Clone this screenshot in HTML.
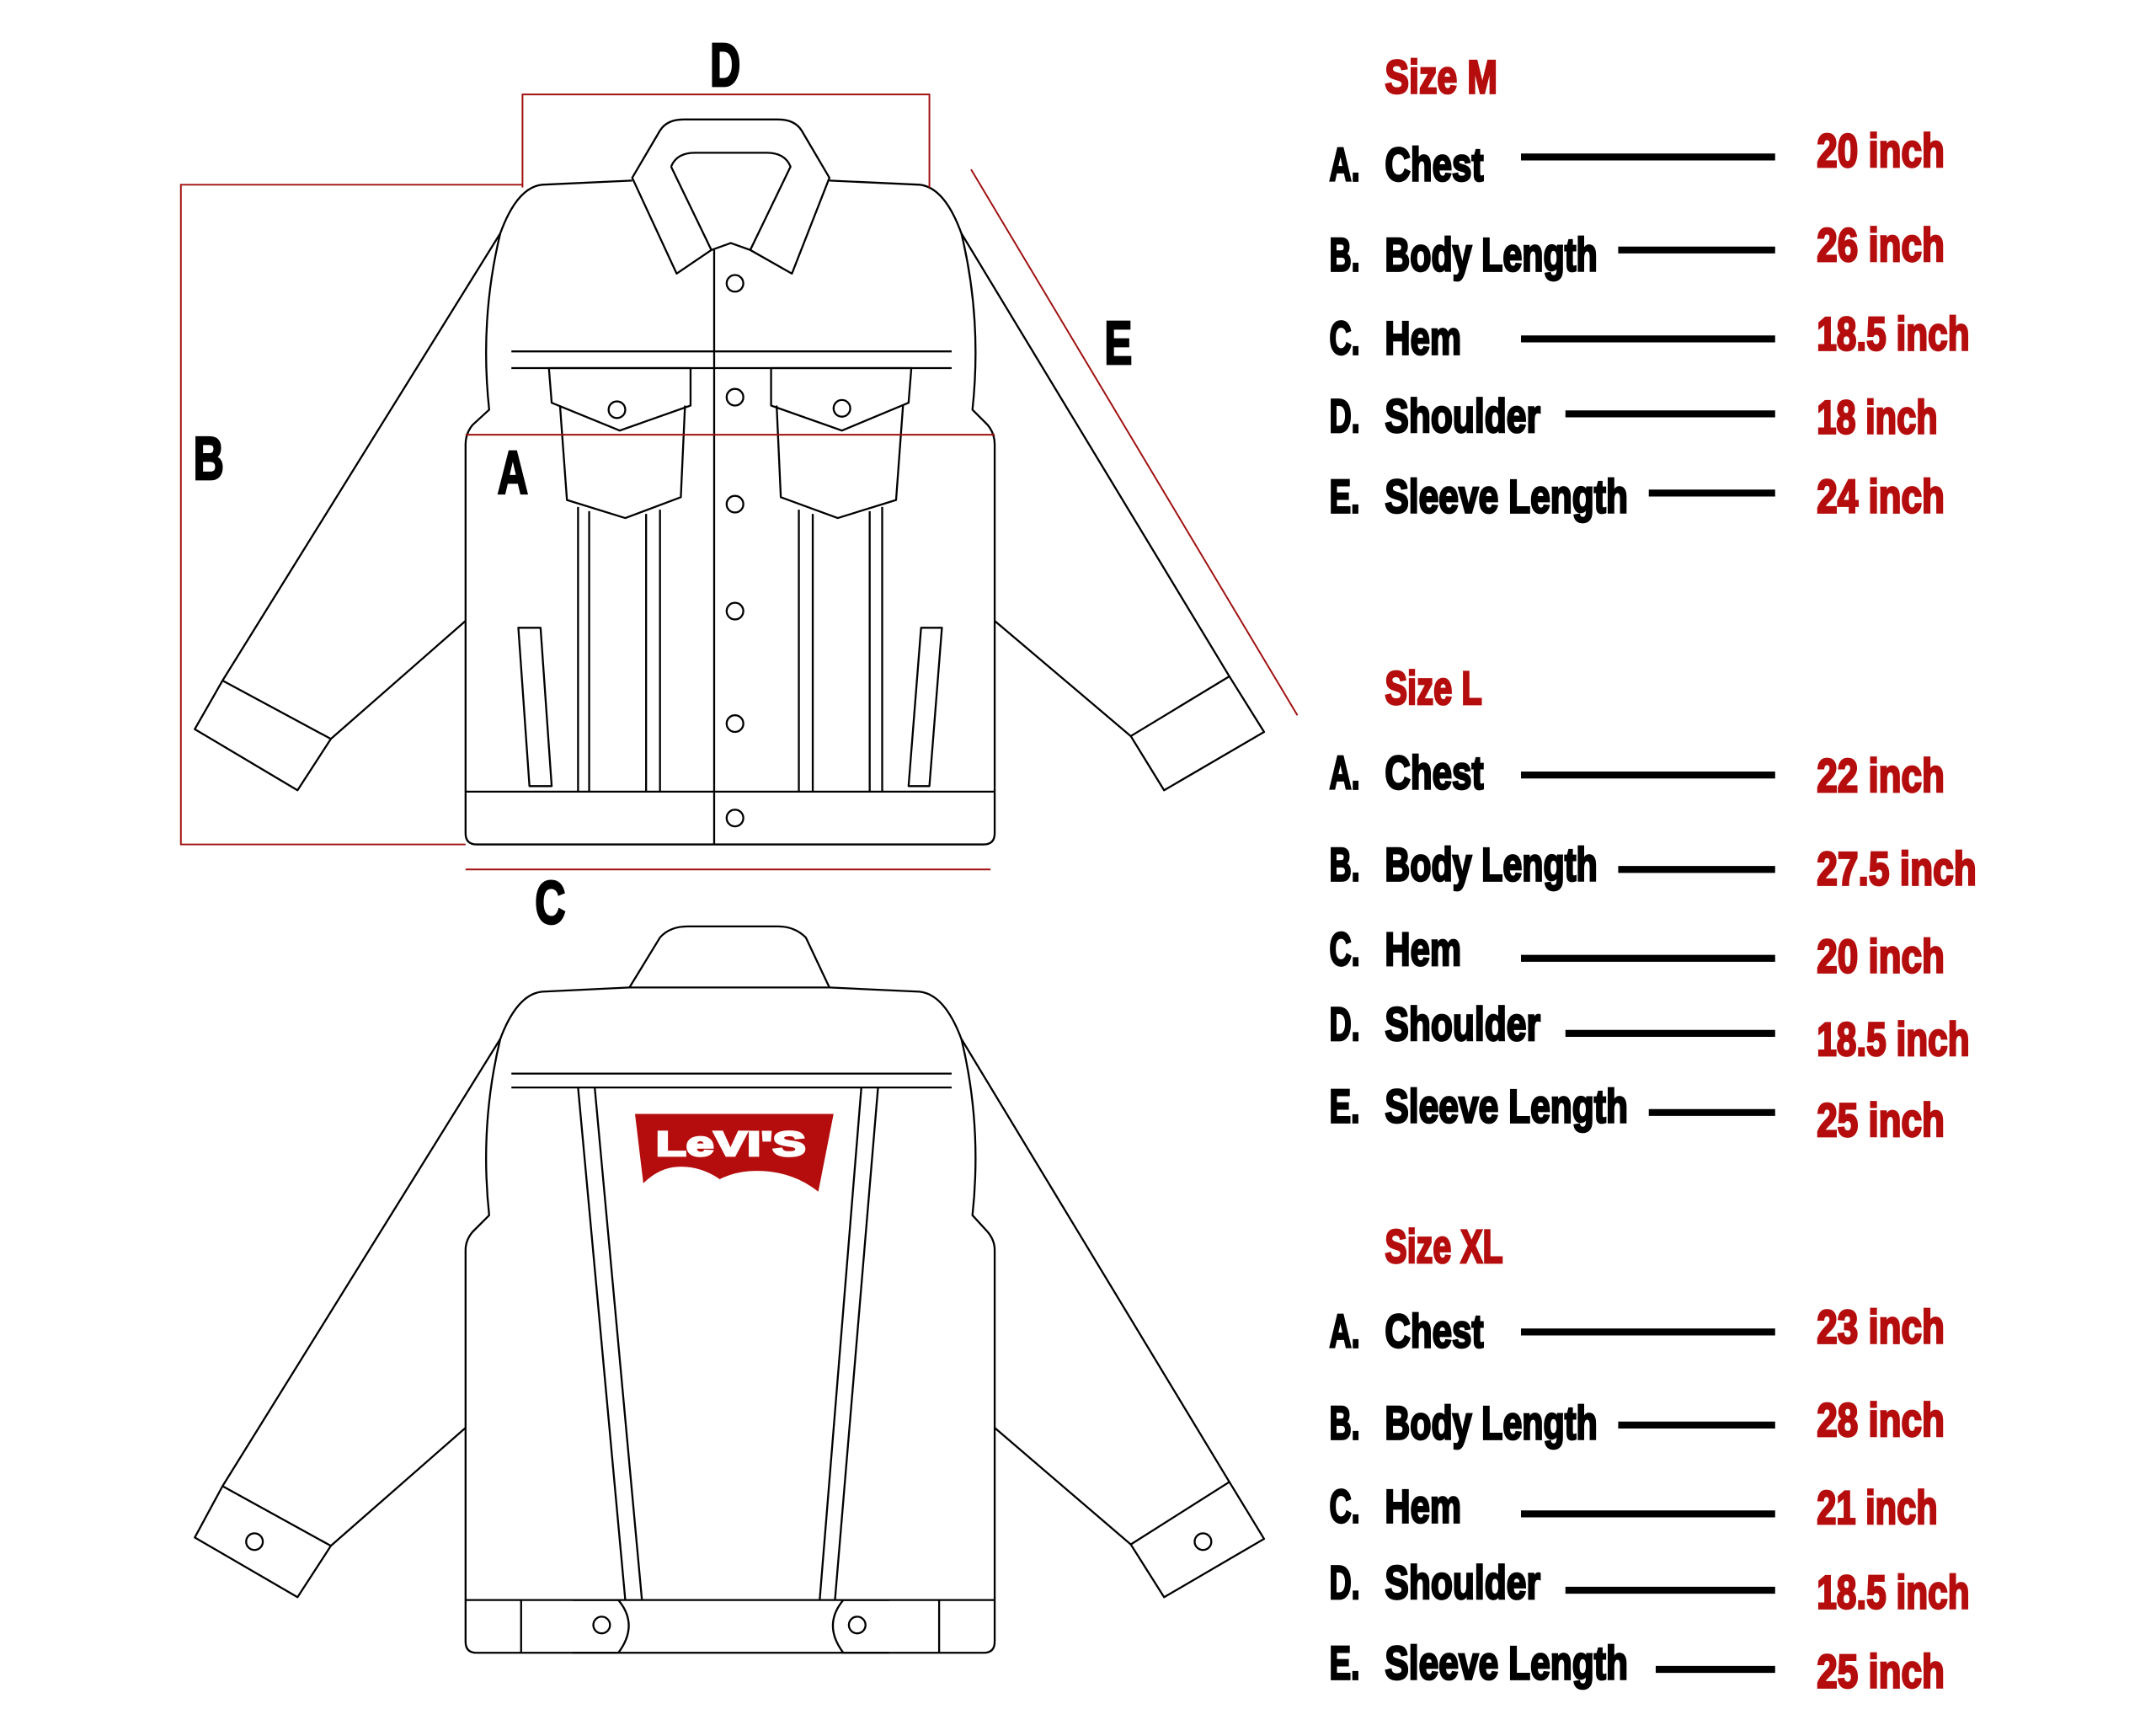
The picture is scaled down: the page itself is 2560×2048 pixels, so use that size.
<!DOCTYPE html>
<html><head><meta charset="utf-8"><style>
html,body{margin:0;padding:0;background:#fff;}
svg{display:block;}
.t{font-family:"Liberation Sans Narrow","Liberation Sans",sans-serif;font-weight:bold;}
.th{stroke-width:1.6;paint-order:stroke;}
</style></head><body>
<svg width="2560" height="2048" viewBox="0 0 1552 1242" xmlns="http://www.w3.org/2000/svg">
<rect width="1552" height="1242" fill="#fff"/>
<g fill="none" stroke="#000" stroke-width="1.4" stroke-linejoin="round">
<path d="M455,130 L390,133 Q372,135 360,168 Q345,230 352,295 L340,306 Q335,312 335,320 L335,600 Q335,608 343,608 L708,608 Q716,608 716,600 L716,320 Q716,312 711,306 L700,295 Q707,230 692,168 Q680,135 662,133 L597,130"/>
<path d="M455,128 L475,94 Q480,86 492,86 L560,86 Q572,86 577,94 L597,128 L570,197 L540,180 L526,175 L512,180 L487,197 Z"/>
<path d="M483,120 Q487,110 500,110 L552,110 Q565,110 569,120 L540,180 M483,120 L512,180"/>
<path d="M360,168 L160,490 L140,525 L214,569 L238,532 L335,447"/>
<path d="M160,490 L238,532"/>
<path d="M692,168 L885,487 L910,527 L838,569 L814,530 L716,447"/>
<path d="M885,487 L814,530"/>
<line x1="368" y1="253" x2="685" y2="253"/><line x1="368" y1="265" x2="685" y2="265"/>
<line x1="514" y1="180" x2="514" y2="608"/>
<line x1="335" y1="570" x2="716" y2="570"/>
<path d="M395,265 L497,265 L497,292 L446,310 L397,290 Z"/>
<path d="M403,292 L408,360 L450,373 L490,358 L493,292"/>
<path d="M555,265 L656,265 L654,290 L606,310 L555,292 Z"/>
<path d="M559,292 L562,358 L603,373 L645,360 L650,292"/>
<circle cx="444" cy="295" r="6"/><circle cx="606" cy="294" r="6"/>
<circle cx="529" cy="204" r="6"/><circle cx="529" cy="286" r="6"/><circle cx="529" cy="363" r="6"/><circle cx="529" cy="440" r="6"/><circle cx="529" cy="521" r="6"/><circle cx="529" cy="589" r="6"/>
<line x1="416" y1="365" x2="416" y2="570"/><line x1="424" y1="368" x2="424" y2="570"/>
<line x1="465" y1="370" x2="465" y2="570"/><line x1="475" y1="367" x2="475" y2="570"/>
<line x1="575" y1="367" x2="575" y2="570"/><line x1="585" y1="370" x2="585" y2="570"/>
<line x1="626" y1="368" x2="626" y2="570"/><line x1="635" y1="365" x2="635" y2="570"/>
<path d="M373,452 L389,452 L397,566 L381,566 Z"/>
<path d="M663,452 L678,452 L669,566 L654,566 Z"/>
<path d="M453,711 L475,675 Q482,667 495,667 L560,667 Q572,667 580,675 L597,711"/>
<path d="M453,711 L390,714 Q372,716 360,748 Q345,810 352,875 L340,887 Q335,893 335,900 L335,1182 Q335,1190 343,1190 L708,1190 Q716,1190 716,1182 L716,900 Q716,893 711,887 L700,875 Q707,810 692,748 Q680,716 662,714 L597,711 Z"/>
<path d="M360,748 L160,1070 L140,1107 L214,1150 L238,1113 L335,1028"/>
<path d="M160,1070 L238,1113"/>
<path d="M692,748 L885,1067 L910,1108 L838,1150 L814,1112 L716,1028"/>
<path d="M885,1067 L814,1112"/>
<circle cx="183" cy="1110" r="6"/><circle cx="866" cy="1110" r="6"/>
<line x1="368" y1="773" x2="685" y2="773"/><line x1="368" y1="783" x2="685" y2="783"/>
<line x1="416" y1="783" x2="450" y2="1152"/><line x1="428" y1="783" x2="462" y2="1152"/>
<line x1="632" y1="783" x2="601" y2="1152"/><line x1="620" y1="783" x2="590" y2="1152"/>
<line x1="335" y1="1152" x2="716" y2="1152"/>
<line x1="375" y1="1152" x2="375" y2="1190"/><line x1="676" y1="1152" x2="676" y2="1190"/>
<path d="M412,1152 L445,1152 Q460,1170 445,1190 L412,1190"/>
<path d="M640,1152 L607,1152 Q592,1170 607,1190 L640,1190"/>
<circle cx="433" cy="1170" r="6"/><circle cx="617" cy="1170" r="6"/>
</g>
<path d="M457,802 L600,802 L589,858 Q570,843 545,843 Q530,843 518,849 Q505,840 490,840 Q475,840 463,852 Z" fill="#b50d0d"/>
<text x="526" y="832" class="t th" font-size="25" fill="#fff" stroke="#fff" text-anchor="middle" textLength="108" lengthAdjust="spacingAndGlyphs" font-family="Liberation Sans">LeVI'S</text>
<g stroke="#a01010" stroke-width="1.2" fill="none">
<path d="M376,135 L376,68 L669,68 L669,135"/>
<path d="M376,133 L130,133 L130,608 L335,608"/>
<line x1="335" y1="313" x2="716" y2="313"/>
<line x1="335" y1="626" x2="713" y2="626"/>
<line x1="699" y1="122" x2="934" y2="515"/>
</g>
<g class="t th" font-size="44" fill="#000" stroke="#000" text-anchor="middle">
<text x="522" y="62" textLength="22" lengthAdjust="spacingAndGlyphs">D</text>
<text x="150" y="345" textLength="22" lengthAdjust="spacingAndGlyphs">B</text>
<text x="369" y="355" textLength="22" lengthAdjust="spacingAndGlyphs">A</text>
<text x="805" y="262" textLength="20" lengthAdjust="spacingAndGlyphs">E</text>
<text x="396" y="665" textLength="22" lengthAdjust="spacingAndGlyphs">C</text>
</g>
<g class="t th" font-size="34" stroke="#000">
<text x="997" y="67" fill="#b50d0d" stroke="#b50d0d" textLength="81" lengthAdjust="spacingAndGlyphs">Size M</text>
<text x="957" y="130" textLength="22" lengthAdjust="spacingAndGlyphs">A.</text><text x="997" y="130" textLength="71" lengthAdjust="spacingAndGlyphs">Chest</text>
<text x="957" y="195" textLength="22" lengthAdjust="spacingAndGlyphs">B.</text><text x="997" y="195" textLength="153" lengthAdjust="spacingAndGlyphs">Body Length</text>
<text x="957" y="255" textLength="22" lengthAdjust="spacingAndGlyphs">C.</text><text x="997" y="255" textLength="55" lengthAdjust="spacingAndGlyphs">Hem</text>
<text x="957" y="311" textLength="22" lengthAdjust="spacingAndGlyphs">D.</text><text x="997" y="311" textLength="112" lengthAdjust="spacingAndGlyphs">Shoulder</text>
<text x="957" y="369" textLength="22" lengthAdjust="spacingAndGlyphs">E.</text><text x="997" y="369" textLength="175" lengthAdjust="spacingAndGlyphs">Sleeve Length</text>
<g fill="#b50d0d" stroke="#b50d0d">
<text x="1308" y="120" textLength="92" lengthAdjust="spacingAndGlyphs">20 inch</text>
<text x="1308" y="188" textLength="92" lengthAdjust="spacingAndGlyphs">26 inch</text>
<text x="1308" y="252" textLength="110" lengthAdjust="spacingAndGlyphs">18.5 inch</text>
<text x="1308" y="312" textLength="87" lengthAdjust="spacingAndGlyphs">18 inch</text>
<text x="1308" y="369" textLength="92" lengthAdjust="spacingAndGlyphs">24 inch</text>
</g>
<text x="997" y="507" fill="#b50d0d" stroke="#b50d0d" textLength="70" lengthAdjust="spacingAndGlyphs">Size L</text>
<text x="957" y="568" textLength="22" lengthAdjust="spacingAndGlyphs">A.</text><text x="997" y="568" textLength="71" lengthAdjust="spacingAndGlyphs">Chest</text>
<text x="957" y="634" textLength="22" lengthAdjust="spacingAndGlyphs">B.</text><text x="997" y="634" textLength="153" lengthAdjust="spacingAndGlyphs">Body Length</text>
<text x="957" y="695" textLength="22" lengthAdjust="spacingAndGlyphs">C.</text><text x="997" y="695" textLength="55" lengthAdjust="spacingAndGlyphs">Hem</text>
<text x="957" y="749" textLength="22" lengthAdjust="spacingAndGlyphs">D.</text><text x="997" y="749" textLength="112" lengthAdjust="spacingAndGlyphs">Shoulder</text>
<text x="957" y="808" textLength="22" lengthAdjust="spacingAndGlyphs">E.</text><text x="997" y="808" textLength="175" lengthAdjust="spacingAndGlyphs">Sleeve Length</text>
<g fill="#b50d0d" stroke="#b50d0d">
<text x="1308" y="570" textLength="92" lengthAdjust="spacingAndGlyphs">22 inch</text>
<text x="1308" y="637" textLength="115" lengthAdjust="spacingAndGlyphs">27.5 inch</text>
<text x="1308" y="700" textLength="92" lengthAdjust="spacingAndGlyphs">20 inch</text>
<text x="1308" y="760" textLength="110" lengthAdjust="spacingAndGlyphs">18.5 inch</text>
<text x="1308" y="818" textLength="92" lengthAdjust="spacingAndGlyphs">25 inch</text>
</g>
<text x="997" y="909" fill="#b50d0d" stroke="#b50d0d" textLength="85" lengthAdjust="spacingAndGlyphs">Size XL</text>
<text x="957" y="970" textLength="22" lengthAdjust="spacingAndGlyphs">A.</text><text x="997" y="970" textLength="71" lengthAdjust="spacingAndGlyphs">Chest</text>
<text x="957" y="1036" textLength="22" lengthAdjust="spacingAndGlyphs">B.</text><text x="997" y="1036" textLength="153" lengthAdjust="spacingAndGlyphs">Body Length</text>
<text x="957" y="1096" textLength="22" lengthAdjust="spacingAndGlyphs">C.</text><text x="997" y="1096" textLength="55" lengthAdjust="spacingAndGlyphs">Hem</text>
<text x="957" y="1151" textLength="22" lengthAdjust="spacingAndGlyphs">D.</text><text x="997" y="1151" textLength="112" lengthAdjust="spacingAndGlyphs">Shoulder</text>
<text x="957" y="1209" textLength="22" lengthAdjust="spacingAndGlyphs">E.</text><text x="997" y="1209" textLength="175" lengthAdjust="spacingAndGlyphs">Sleeve Length</text>
<g fill="#b50d0d" stroke="#b50d0d">
<text x="1308" y="967" textLength="92" lengthAdjust="spacingAndGlyphs">23 inch</text>
<text x="1308" y="1034" textLength="92" lengthAdjust="spacingAndGlyphs">28 inch</text>
<text x="1308" y="1097" textLength="87" lengthAdjust="spacingAndGlyphs">21 inch</text>
<text x="1308" y="1158" textLength="110" lengthAdjust="spacingAndGlyphs">18.5 inch</text>
<text x="1308" y="1215" textLength="92" lengthAdjust="spacingAndGlyphs">25 inch</text>
</g>
</g>
<g stroke="#000" stroke-width="5">
<line x1="1095" y1="113" x2="1278" y2="113"/>
<line x1="1165" y1="180" x2="1278" y2="180"/>
<line x1="1095" y1="244" x2="1278" y2="244"/>
<line x1="1127" y1="298" x2="1278" y2="298"/>
<line x1="1187" y1="355" x2="1278" y2="355"/>
<line x1="1095" y1="558" x2="1278" y2="558"/>
<line x1="1165" y1="626" x2="1278" y2="626"/>
<line x1="1095" y1="690" x2="1278" y2="690"/>
<line x1="1127" y1="744" x2="1278" y2="744"/>
<line x1="1187" y1="801" x2="1278" y2="801"/>
<line x1="1095" y1="959" x2="1278" y2="959"/>
<line x1="1165" y1="1026" x2="1278" y2="1026"/>
<line x1="1095" y1="1090" x2="1278" y2="1090"/>
<line x1="1127" y1="1145" x2="1278" y2="1145"/>
<line x1="1192" y1="1202" x2="1278" y2="1202"/>
</g>
</svg>
</body></html>
